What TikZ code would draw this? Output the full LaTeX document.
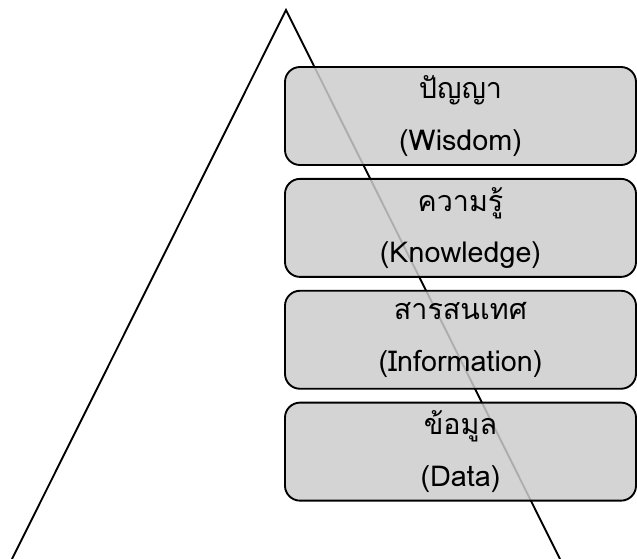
\documentclass[tikz,border=0pt]{standalone}
\usepackage{fontspec}
\newfontfamily\thaifont[Script=Thai]{Loma}
\usetikzlibrary{positioning}
\tikzset{
  layer/.style={draw, line width=1.6pt, rounded corners=0.45cm,
    fill=black!20, fill opacity=0.85, text opacity=1,
    minimum width=10.53cm, minimum height=2.94cm, align=center,
    font=\thaifont\fontsize{24.5}{44}\selectfont},
  side/.style={line width=1.6pt}
}
\begin{document}
\begin{tikzpicture}[x=0.03cm, y=-0.03cm, node distance=0.36cm]
  \useasboundingbox (0,0) rectangle (637,559);

  % pyramid sides
  \coordinate (Apex)  at (286,10);
  \coordinate (FootL) at (12,559);
  \coordinate (FootR) at (560,559);
  \draw[side] (FootL) -- (Apex) -- (FootR);

  % levels
  \node[layer] (Wisdom) at (460.5,116) {ปัญญา\\(Wisdom)};
  \node[layer, below=of Wisdom]      (Knowledge)   {ความรู้\\(Knowledge)};
  \node[layer, below=of Knowledge]   (Information) {สารสนเทศ\\(Information)};
  \node[layer, below=of Information] (Data)        {ข้อมูล\\(Data)};
\end{tikzpicture}
\end{document}
